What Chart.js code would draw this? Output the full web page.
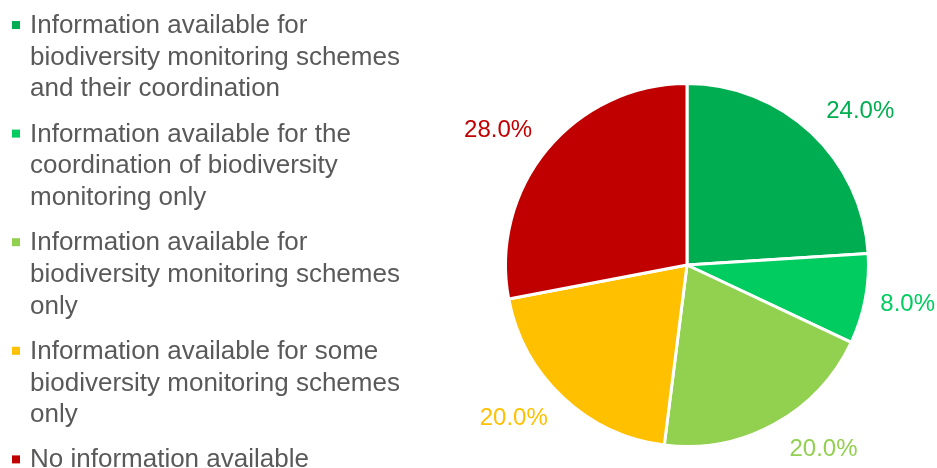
<!DOCTYPE html>
<html>
<head>
<meta charset="utf-8">
<script src="https://cdn.jsdelivr.net/npm/chart.js@4"></script>
<style>
  html, body { margin: 0; padding: 0; background: #fff; }
  #wrap { width: 937px; height: 468px; }
</style>
</head>
<body>
<div id="wrap"><canvas id="pieC"></canvas></div>
<script>
// legend lines as in the original (multi-line labels)
var labels = [
    ["Information available for", "biodiversity monitoring schemes", "and their coordination"],
    ["Information available for the", "coordination of biodiversity", "monitoring only"],
    ["Information available for", "biodiversity monitoring schemes", "only"],
    ["Information available for some", "biodiversity monitoring schemes", "only"],
    ["No information available"]
];
var values = [24, 8, 20, 20, 28];
var colors = ['#00AD50', '#00CC5F', '#92D050', '#FFC000', '#C00000'];

var FONT = '"Liberation Sans", Arial, sans-serif';

var leftLegend = {
    id: 'leftLegend',
    afterDraw: function(chart) {
        var c = chart.ctx;
        c.save();
        c.font = '26px ' + FONT;
        c.textBaseline = 'alphabetic';
        var y = 33;
        labels.forEach(function(lines, i) {
            c.fillStyle = colors[i];
            c.fillRect(12, y - 12, 8, 8);
            c.fillStyle = '#595959';
            lines.forEach(function(l, k) {
                c.fillText(l, 30, y + k * 31.7);
            });
            y += lines.length * 31.7 + 13.5;
        });
        c.restore();
    }
};

// percent labels outside the slices, placed beside the edge like Excel
var pctLabels = {
    id: 'pctLabels',
    afterDatasetsDraw: function(chart) {
        var c = chart.ctx;
        var total = values.reduce(function(a, b) { return a + b; }, 0);
        c.save();
        c.font = '24px ' + FONT;
        c.textAlign = 'center';
        c.textBaseline = 'middle';
        chart.getDatasetMeta(0).data.forEach(function(arc, i) {
            var a = (arc.startAngle + arc.endAngle) / 2;
            var txt = (values[i] / total * 100).toFixed(1) + '%';
            var w = c.measureText(txt).width;
            var ex = arc.x + Math.cos(a) * arc.outerRadius;
            var ey = arc.y + Math.sin(a) * arc.outerRadius;
            var dx = (Math.cos(a) >= 0 ? 1 : -1) * (w / 2 + 15);
            c.fillStyle = colors[i];
            c.fillText(txt, ex + dx, ey + Math.sin(a) * 29);
        });
        c.restore();
    }
};

new Chart(document.getElementById("pieC"), {
    type: 'pie',
    data: {
        labels: labels,
        datasets: [{
            data: values,
            backgroundColor: colors,
            borderColor: '#ffffff',
            borderWidth: 3
        }]
    },
    options: {
        responsive: true,
        maintainAspectRatio: false,
        animation: false,
        layout: { padding: { left: 504, right: 67, top: 82, bottom: 20 } },
        plugins: {
            legend: { display: false },
            tooltip: { enabled: false }
        }
    },
    plugins: [leftLegend, pctLabels]
});
</script>
</body>
</html>
